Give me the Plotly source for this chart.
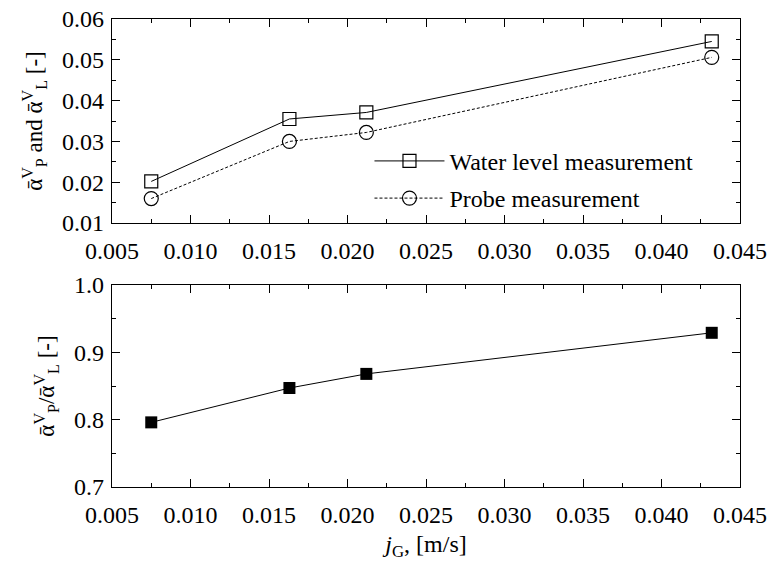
import plotly.graph_objects as go

jg = [0.0075, 0.0163, 0.0212, 0.0432]
water_level = [0.0202, 0.0355, 0.0371, 0.0545]
probe = [0.0160, 0.0300, 0.0322, 0.0506]
ratio = [0.796, 0.847, 0.868, 0.929]

FONT = "Liberation Serif"
FS = 24

fig = go.Figure()
fig.add_trace(go.Scatter(
    x=jg, y=water_level, mode="lines+markers", name="Water level measurement",
    legendgroup="a",
    line=dict(color="black", width=1),
    marker=dict(symbol="square-open", size=13, color="black", line=dict(width=1.2)),
    xaxis="x", yaxis="y"))
fig.add_trace(go.Scatter(
    x=jg, y=probe, mode="lines+markers", name="Probe measurement",
    legendgroup="b",
    line=dict(color="black", width=1, dash="3px,2px"),
    marker=dict(symbol="circle-open", size=14, color="black", line=dict(width=1.2)),
    xaxis="x", yaxis="y"))
fig.add_trace(go.Scatter(
    x=jg, y=ratio, mode="lines+markers", showlegend=False,
    line=dict(color="black", width=1),
    marker=dict(symbol="square", size=12, color="black"),
    xaxis="x2", yaxis="y2"))

axis_common = dict(
    showline=True, linecolor="black", linewidth=1.3, mirror="ticks",
    ticks="inside", ticklen=8, tickwidth=1, tickcolor="black",
    showgrid=False, zeroline=False, automargin=False,
    tickfont=dict(family=FONT, size=FS, color="black"),
)
xcommon = dict(axis_common, range=[0.005, 0.045], dtick=0.005, tick0=0.005,
               tickformat=".3f", ticklabelstandoff=6,
               minor=dict(ticks="inside", ticklen=4, dtick=0.0025, tickcolor="black", showgrid=False))

fig.update_layout(
    width=768, height=567,
    margin=dict(l=112, r=28, t=19, b=80),
    paper_bgcolor="white", plot_bgcolor="white",
    font=dict(family=FONT, size=FS, color="black"),
    xaxis=dict(xcommon, anchor="y"),
    xaxis2=dict(xcommon, anchor="y2",
                title=dict(text="<i>j</i><sub>G</sub>, [m/s]", standoff=8,
                           font=dict(family=FONT, size=FS))),
    yaxis=dict(axis_common, domain=[0.564, 1.0], range=[0.01, 0.06], dtick=0.01,
               tickformat=".2f", ticklabelstandoff=2,
               minor=dict(ticks="inside", ticklen=4, dtick=0.005, tickcolor="black", showgrid=False),
               title=dict(text="ᾱ<sup>V</sup><sub>P</sub> and ᾱ<sup>V</sup><sub>L</sub> [-]",
                          standoff=12, font=dict(family=FONT, size=23))),
    yaxis2=dict(axis_common, domain=[0.0, 0.4316], range=[0.7, 1.0], dtick=0.1,
                tickformat=".1f", ticklabelstandoff=2,
                minor=dict(ticks="inside", ticklen=4, dtick=0.05, tickcolor="black", showgrid=False),
                title=dict(text="ᾱ<sup>V</sup><sub>P</sub>/ᾱ<sup>V</sup><sub>L</sub> [-]",
                           standoff=12, font=dict(family=FONT, size=23))),
    legend=dict(x=0.41, y=0.744, xanchor="left", yanchor="top",
                bgcolor="rgba(0,0,0,0)", borderwidth=0, itemwidth=70,
                traceorder="grouped", tracegroupgap=3,
                font=dict(family=FONT, size=FS)),
    showlegend=True,
)

fig.write_html("out.html")
